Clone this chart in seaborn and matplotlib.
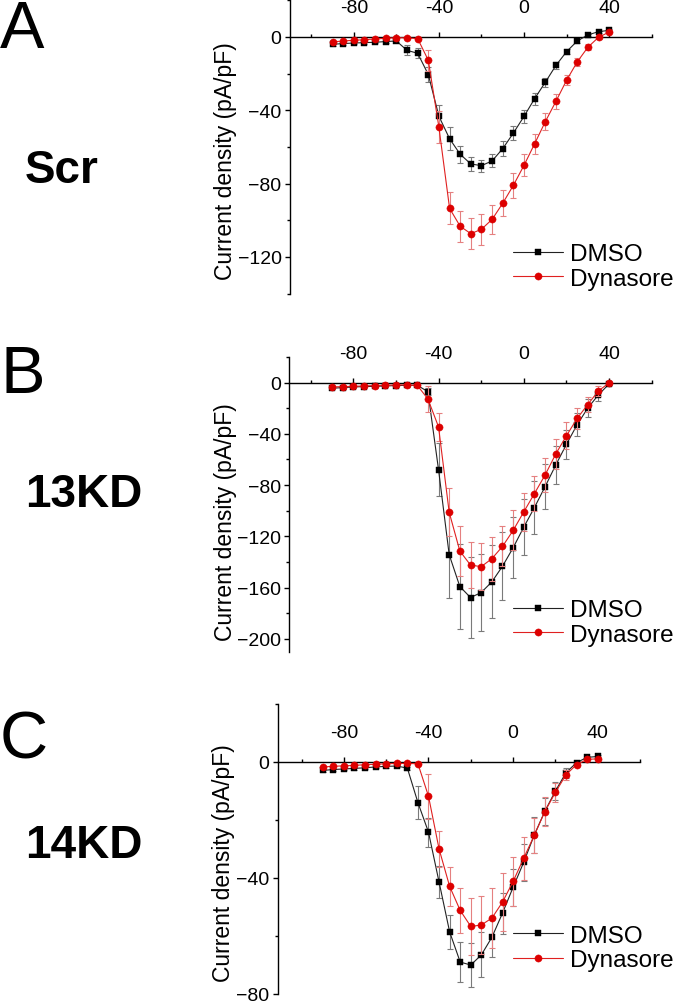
import numpy as np
import pandas as pd
import matplotlib
matplotlib.use("Agg")
import matplotlib.pyplot as plt
from matplotlib.ticker import MultipleLocator
import seaborn as sns

# ---------------- data ----------------
voltage = [-90, -85, -80, -75, -70, -65, -60, -55, -50, -45, -40, -35, -30, -25,
           -20, -15, -10, -5, 0, 5, 10, 15, 20, 25, 30, 35, 40]

# Panel A (Scr)
scr_dmso = [-4.0, -3.6, -3.3, -3.1, -2.9, -2.5, -2.2, -7.3, -8.9, -20.5, -43.3, -55.5, -64.0, -69.3,
            -70.2, -67.6, -60.9, -52.4, -43.3, -33.6, -24.7, -15.5, -8.0, -2.2, 1.1, 2.9, 3.6]
scr_dmso_err = [0.8, 0.7, 0.7, 0.6, 0.6, 0.6, 0.6, 2.7, 2.7, 4.0, 6.2, 6.4, 4.5, 3.8,
                3.2, 3.6, 4.0, 3.6, 3.6, 3.3, 2.4, 2.0, 1.3, 1.0, 0.7, 0.6, 0.6]
scr_dyn = [-2.7, -2.2, -1.8, -1.5, -1.1, -0.7, -0.4, -0.5, -0.9, -12.7, -49.3, -93.5, -103.3, -107.3,
           -104.9, -99.5, -90.7, -80.9, -70.0, -58.2, -46.2, -35.1, -23.6, -13.6, -5.6, -0.2, 2.7]
scr_dyn_err = [0.6, 0.5, 0.5, 0.5, 0.4, 0.4, 0.4, 0.5, 0.6, 5.8, 8.8, 8.8, 8.5, 8.4,
               8.5, 8.1, 7.0, 6.8, 6.0, 5.5, 4.5, 4.0, 2.7, 2.2, 1.5, 0.8, 0.6]

# Panel B (13KD)
kd13_dmso = [-4.4, -3.9, -3.4, -3.1, -2.9, -2.6, -2.3, -2.1, -2.1, -7.0, -67.9, -134.3, -159.2, -167.8,
             -163.9, -155.6, -143.4, -128.9, -112.8, -97.5, -81.2, -64.3, -48.2, -32.9, -19.9, -9.6, -1.0]
kd13_dmso_err = [0.8, 0.8, 0.7, 0.7, 0.7, 0.6, 0.6, 0.6, 0.6, 3.0, 20.7, 33.7, 33.0, 31.9,
                 30.0, 28.5, 26.7, 24.0, 21.8, 20.7, 17.4, 14.5, 11.4, 8.8, 7.0, 4.9, 1.0]
kd13_dyn = [-3.4, -3.1, -2.9, -2.6, -2.3, -2.1, -1.8, -1.8, -2.1, -12.7, -34.5, -101.2, -131.5, -142.4,
            -143.7, -137.5, -127.9, -115.4, -100.9, -86.6, -72.1, -55.7, -41.5, -28.0, -17.1, -6.5, -0.2]
kd13_dyn_err = [0.7, 0.7, 0.6, 0.6, 0.6, 0.5, 0.5, 0.5, 0.5, 9.9, 10.9, 18.7, 19.7, 18.2,
                18.2, 17.1, 15.6, 15.6, 14.8, 13.8, 13.2, 11.7, 10.4, 8.0, 6.2, 3.9, 1.0]

# Panel C (14KD)
kd14_dmso = [-2.9, -2.6, -2.4, -2.2, -2.0, -1.7, -1.5, -1.4, -2.1, -14.0, -24.2, -41.4, -58.6, -69.0,
             -70.0, -66.5, -60.4, -52.1, -43.2, -34.6, -25.2, -17.0, -10.0, -3.7, -0.2, 1.6, 1.9]
kd14_dmso_err = [0.5, 0.5, 0.5, 0.4, 0.4, 0.4, 0.4, 0.4, 0.5, 5.7, 5.0, 5.5, 6.0, 6.9,
                 7.6, 7.8, 6.9, 7.1, 6.4, 6.3, 6.1, 4.7, 3.1, 1.8, 0.6, 0.4, 0.4]
kd14_dyn = [-1.7, -1.5, -1.3, -1.2, -0.9, -0.8, -0.6, -0.5, -0.5, -0.6, -11.8, -30.0, -42.9, -51.2,
            -56.7, -56.2, -53.8, -48.3, -41.2, -33.2, -25.3, -17.1, -10.5, -4.4, -0.9, 0.9, 1.1]
kd14_dyn_err = [0.4, 0.4, 0.4, 0.3, 0.3, 0.3, 0.3, 0.3, 0.3, 0.4, 7.7, 6.3, 6.6, 7.7,
                9.7, 10.0, 10.2, 10.0, 8.6, 7.4, 6.1, 4.9, 3.4, 1.7, 0.6, 0.4, 0.4]

panel_letters = ["A", "B", "C"]
panel_names = ["Scr", "13KD", "14KD"]
series_labels = ["DMSO", "Dynasore"]
x_major = [-80, -40, 0, 40]
y_label = "Current density (pA/pF)"

# ---------------- style ----------------
sns.set_style("ticks")
plt.rcParams["font.family"] = ["Liberation Sans", "DejaVu Sans"]
plt.rcParams["text.color"] = "black"
plt.rcParams["axes.labelcolor"] = "black"
plt.rcParams["xtick.color"] = "black"
plt.rcParams["ytick.color"] = "black"
plt.rcParams["axes.edgecolor"] = "black"

W, H = 677, 1004
fig = plt.figure(figsize=(W / 100, H / 100), dpi=100)


def rect(left, top, right, bottom):
    return [left / W, 1 - bottom / H, (right - left) / W, (bottom - top) / H]


axes_rects = [rect(290, 1.3, 651.7, 294.6),
              rect(289.3, 358, 651.7, 652.6),
              rect(277.7, 705, 640, 995)]
ylims = [(-140, 20), (-210, 20), (-80, 20)]
xlims = [(-110, 60), (-110, 60), (-111.3, 60)]
ylabel_coords = [(-0.146, 0.454), (-0.145, 0.442), (-0.118, 0.454)]
legend_anchor = [(513, 267.5), (513, 623.5), (513, 949)]
letter_pos = [(0, 48), (0, 393), (0, 759)]
name_pos = [(25, 183), (25, 507), (25, 858)]

panels = [
    (scr_dmso, scr_dmso_err, scr_dyn, scr_dyn_err),
    (kd13_dmso, kd13_dmso_err, kd13_dyn, kd13_dyn_err),
    (kd14_dmso, kd14_dmso_err, kd14_dyn, kd14_dyn_err),
]

black = "#000000"
red = "#dd0000"

for i, (d, de, y, ye) in enumerate(panels):
    ax = fig.add_axes(axes_rects[i])
    df = pd.DataFrame({"V": voltage, "DMSO": d, "DMSO_err": de,
                       "Dyn": y, "Dyn_err": ye})

    ax.errorbar(df["V"], df["DMSO"], yerr=df["DMSO_err"], fmt="none",
                ecolor="#7a7a7a", elinewidth=0.8, capsize=2.2, capthick=0.8, zorder=2)
    sns.lineplot(data=df, x="V", y="DMSO", ax=ax, color="#222222", linewidth=0.8,
                 marker="s", markersize=4.6, markerfacecolor=black,
                 markeredgecolor=black, markeredgewidth=0.3, label=series_labels[0],
                 zorder=3)
    ax.errorbar(df["V"], df["Dyn"], yerr=df["Dyn_err"], fmt="none",
                ecolor="#e58080", elinewidth=0.8, capsize=2.2, capthick=0.8, zorder=4)
    sns.lineplot(data=df, x="V", y="Dyn", ax=ax, color="#e02020", linewidth=0.8,
                 marker="o", markersize=5.2, markerfacecolor=red,
                 markeredgecolor=red, markeredgewidth=0.3, label=series_labels[1],
                 zorder=5)

    ax.set_xlim(*xlims[i])
    ax.set_ylim(*ylims[i])

    # axes styling
    ax.spines["right"].set_visible(False)
    ax.spines["bottom"].set_visible(False)
    ax.spines["top"].set_position(("data", 0))
    for s in ("left", "top"):
        ax.spines[s].set_linewidth(1.0)
        ax.spines[s].set_color("black")
    ax.xaxis.set_ticks_position("top")
    ax.xaxis.set_label_position("top")
    ax.set_xticks(x_major)
    ax.set_xticklabels([str(v) for v in x_major])
    ax.xaxis.set_minor_locator(MultipleLocator(20))
    ax.yaxis.set_major_locator(MultipleLocator(40))
    ax.yaxis.set_minor_locator(MultipleLocator(20))
    ax.tick_params(axis="x", which="major", direction="out", length=3.6, width=1.0,
                   pad=11.5, labelsize=14, colors="black")
    ax.tick_params(axis="x", which="minor", direction="out", length=2.2, width=1.0,
                   colors="black")
    ax.tick_params(axis="y", which="major", direction="out", length=3.6, width=1.0,
                   pad=2.5, labelsize=14, colors="black")
    ax.tick_params(axis="y", which="minor", direction="out", length=2.2, width=1.0,
                   colors="black")
    ax.set_xlabel("")
    ax.set_ylabel(y_label, fontsize=16.5, color="black")
    ax.yaxis.set_label_coords(*ylabel_coords[i])

    lx, ly = legend_anchor[i]
    leg = ax.legend(loc="center left", bbox_to_anchor=(lx / W, 1 - ly / H),
                    bbox_transform=fig.transFigure, frameon=False, fontsize=17.5,
                    handlelength=2.05, handletextpad=0.3, labelspacing=0.12,
                    borderpad=0, borderaxespad=0, numpoints=1)
    for t in leg.get_texts():
        t.set_color("black")

    px, py = letter_pos[i]
    fig.text(px / W, 1 - py / H, panel_letters[i], fontsize=48, ha="left",
             va="baseline", color="black")
    nx, ny = name_pos[i]
    fig.text(nx / W, 1 - ny / H, panel_names[i], fontsize=33, fontweight="bold",
             ha="left", va="baseline", color="black")

fig.savefig("out.png", dpi=100)
